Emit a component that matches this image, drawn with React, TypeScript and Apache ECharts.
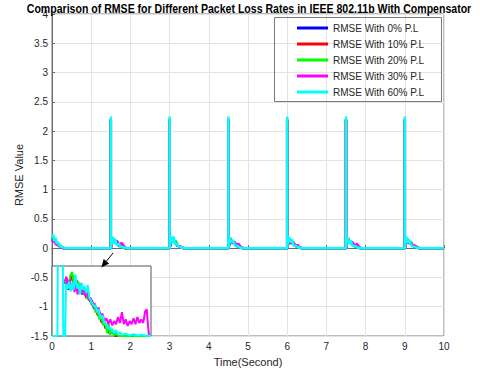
import React, { useEffect, useRef } from "react";
import * as echarts from "echarts";

// ---- Data ----
const seriesNames = [
  "RMSE With 0% P.L",
  "RMSE With 10% P.L",
  "RMSE With 20% P.L",
  "RMSE With 30% P.L",
  "RMSE With 60% P.L",
];
const seriesColors = ["#0000ff", "#ff0000", "#00ff00", "#ff00ff", "#00ffff"];

const xTicks = [0, 1, 2, 3, 4, 5, 6, 7, 8, 9, 10];
const yTicks = [-1.5, -1, -0.5, 0, 0.5, 1, 1.5, 2, 2.5, 3, 3.5, 4];

// main plot, [time, rmse]
const rmse0 = [
  [0, 0.18], [0.04, 0.12], [0.08, 0.15], [0.12, 0.06], [0.18, 0.05], [0.25, 0.01], [0.3, 0],
  [1.5, 0], [1.5, 2.2], [1.5, 0], [1.55, 0.16], [1.6, 0.09], [1.65, 0.11], [1.7, 0.04], [1.78, 0.03], [1.86, 0],
  [3.0, 0], [3.0, 2.2], [3.0, 0], [3.05, 0.17], [3.1, 0.1], [3.15, 0.12], [3.2, 0.04], [3.28, 0.02], [3.36, 0],
  [4.5, 0], [4.5, 2.2], [4.5, 0], [4.55, 0.16], [4.6, 0.09], [4.65, 0.1], [4.7, 0.04], [4.78, 0.02], [4.86, 0],
  [6.0, 0], [6.0, 2.2], [6.0, 0], [6.05, 0.16], [6.1, 0.09], [6.15, 0.1], [6.2, 0.04], [6.28, 0.02], [6.36, 0],
  [7.5, 0], [7.5, 2.2], [7.5, 0], [7.55, 0.16], [7.6, 0.09], [7.65, 0.1], [7.7, 0.04], [7.78, 0.02], [7.86, 0],
  [9.0, 0], [9.0, 2.2], [9.0, 0], [9.05, 0.16], [9.1, 0.09], [9.15, 0.1], [9.2, 0.04], [9.28, 0.02], [9.36, 0],
  [10, 0],
];
const rmse10 = [
  [0, 0.17], [0.04, 0.13], [0.08, 0.14], [0.12, 0.07], [0.18, 0.04], [0.25, 0.02], [0.3, 0],
  [1.5, 0], [1.5, 2.2], [1.5, 0], [1.55, 0.17], [1.6, 0.08], [1.65, 0.12], [1.7, 0.05], [1.78, 0.02], [1.86, 0],
  [3.0, 0], [3.0, 2.2], [3.0, 0], [3.05, 0.16], [3.1, 0.11], [3.15, 0.11], [3.2, 0.05], [3.28, 0.02], [3.36, 0],
  [4.5, 0], [4.5, 2.2], [4.5, 0], [4.55, 0.17], [4.6, 0.08], [4.65, 0.11], [4.7, 0.05], [4.78, 0.02], [4.86, 0],
  [6.0, 0], [6.0, 2.2], [6.0, 0], [6.05, 0.17], [6.1, 0.08], [6.15, 0.11], [6.2, 0.05], [6.28, 0.02], [6.36, 0],
  [7.5, 0], [7.5, 2.2], [7.5, 0], [7.55, 0.17], [7.6, 0.08], [7.65, 0.11], [7.7, 0.05], [7.78, 0.02], [7.86, 0],
  [9.0, 0], [9.0, 2.2], [9.0, 0], [9.05, 0.17], [9.1, 0.08], [9.15, 0.11], [9.2, 0.05], [9.28, 0.02], [9.36, 0],
  [10, 0],
];
const rmse20 = [
  [0, 0.19], [0.04, 0.11], [0.08, 0.16], [0.12, 0.06], [0.18, 0.06], [0.25, 0.01], [0.3, 0],
  [1.5, 0], [1.5, 2.2], [1.5, 0], [1.55, 0.18], [1.6, 0.1], [1.65, 0.12], [1.7, 0.05], [1.78, 0.03], [1.86, 0],
  [3.0, 0], [3.0, 2.2], [3.0, 0], [3.05, 0.18], [3.1, 0.1], [3.15, 0.13], [3.2, 0.05], [3.28, 0.02], [3.36, 0],
  [4.5, 0], [4.5, 2.2], [4.5, 0], [4.55, 0.17], [4.6, 0.1], [4.65, 0.11], [4.7, 0.05], [4.78, 0.02], [4.86, 0],
  [6.0, 0], [6.0, 2.2], [6.0, 0], [6.05, 0.17], [6.1, 0.1], [6.15, 0.11], [6.2, 0.05], [6.28, 0.02], [6.36, 0],
  [7.5, 0], [7.5, 2.2], [7.5, 0], [7.55, 0.17], [7.6, 0.1], [7.65, 0.11], [7.7, 0.05], [7.78, 0.02], [7.86, 0],
  [9.0, 0], [9.0, 2.2], [9.0, 0], [9.05, 0.17], [9.1, 0.1], [9.15, 0.11], [9.2, 0.05], [9.28, 0.02], [9.36, 0],
  [10, 0],
];
const rmse30 = [
  [0, 0.15], [0.04, 0.1], [0.07, 0.14], [0.1, 0.06], [0.14, 0.09], [0.2, 0.02], [0.3, 0],
  [1.5, 0], [1.5, 2.2], [1.5, 0], [1.55, 0.15], [1.6, 0.1], [1.66, 0.12], [1.72, 0.05], [1.78, 0.09], [1.84, 0.03], [1.9, 0],
  [3.0, 0], [3.0, 2.2], [3.0, 0], [3.05, 0.16], [3.1, 0.12], [3.15, 0.08], [3.2, 0.05], [3.28, 0.02], [3.35, 0],
  [4.5, 0], [4.5, 2.2], [4.5, 0], [4.55, 0.15], [4.6, 0.1], [4.65, 0.1], [4.7, 0.06], [4.76, 0.07], [4.82, 0.02], [4.9, 0],
  [6.0, 0], [6.0, 2.2], [6.0, 0], [6.05, 0.15], [6.1, 0.1], [6.15, 0.09], [6.2, 0.05], [6.27, 0.05], [6.33, 0.01], [6.4, 0],
  [7.5, 0], [7.5, 2.2], [7.5, 0], [7.55, 0.14], [7.6, 0.1], [7.66, 0.1], [7.72, 0.05], [7.78, 0.07], [7.84, 0.02], [7.9, 0],
  [9.0, 0], [9.0, 2.2], [9.0, 0], [9.05, 0.15], [9.1, 0.1], [9.15, 0.09], [9.2, 0.05], [9.27, 0.04], [9.33, 0.01], [9.4, 0],
  [10, 0],
];
const rmse60 = [
  [0, 0.2], [0.03, 0.23], [0.06, 0.12], [0.09, 0.18], [0.12, 0.08], [0.16, 0.1], [0.2, 0.03], [0.26, 0.02], [0.32, 0],
  [1.5, 0], [1.5, 2.25], [1.5, 0], [1.53, 0.2], [1.57, 0.08], [1.61, 0.16], [1.65, 0.05], [1.7, 0.07], [1.76, 0.02], [1.85, 0.01], [1.92, 0],
  [3.0, 0], [3.0, 2.25], [3.0, 0], [3.03, 0.2], [3.07, 0.1], [3.1, 0.2], [3.14, 0.06], [3.18, 0.08], [3.24, 0.02], [3.32, 0.01], [3.4, 0],
  [4.5, 0], [4.5, 2.25], [4.5, 0], [4.53, 0.19], [4.58, 0.09], [4.62, 0.14], [4.66, 0.05], [4.72, 0.04], [4.8, 0.01], [4.9, 0],
  [6.0, 0], [6.0, 2.25], [6.0, 0], [6.03, 0.2], [6.08, 0.1], [6.12, 0.15], [6.16, 0.05], [6.22, 0.04], [6.3, 0.01], [6.4, 0],
  [7.5, 0], [7.5, 2.25], [7.5, 0], [7.53, 0.19], [7.58, 0.08], [7.62, 0.13], [7.66, 0.04], [7.72, 0.04], [7.8, 0.01], [7.9, 0],
  [9.0, 0], [9.0, 2.25], [9.0, 0], [9.03, 0.2], [9.08, 0.09], [9.12, 0.14], [9.16, 0.05], [9.22, 0.03], [9.3, 0.01], [9.4, 0],
  [10, 0],
];

// zoomed inset (drawn in the lower-left box)
const inset0 = [
  [0.33, -0.62], [0.38, -0.55], [0.43, -0.72], [0.48, -0.52], [0.53, -0.5], [0.58, -0.66], [0.63, -0.56], [0.68, -0.74],
  [0.73, -0.62], [0.78, -0.8], [0.83, -0.7], [0.88, -0.84], [0.93, -0.76], [0.98, -0.92], [1.03, -0.9], [1.08, -1.02],
  [1.13, -1.0], [1.18, -1.14], [1.23, -1.12], [1.28, -1.26], [1.33, -1.24], [1.38, -1.36], [1.43, -1.34], [1.48, -1.45],
  [1.55, -1.42], [1.62, -1.5], [2.55, -1.5],
];
const inset10 = [
  [0.33, -0.6], [0.38, -0.58], [0.43, -0.68], [0.48, -0.55], [0.53, -0.48], [0.58, -0.64], [0.63, -0.58], [0.68, -0.72],
  [0.73, -0.64], [0.78, -0.78], [0.83, -0.72], [0.88, -0.86], [0.93, -0.8], [0.98, -0.9], [1.03, -0.92], [1.08, -1.04],
  [1.13, -1.02], [1.18, -1.16], [1.23, -1.1], [1.28, -1.28], [1.33, -1.22], [1.38, -1.38], [1.43, -1.32], [1.48, -1.46],
  [1.56, -1.44], [1.64, -1.5], [2.55, -1.5],
];
const inset20 = [
  [0.33, -0.6], [0.38, -0.52], [0.42, -0.7], [0.47, -0.48], [0.52, -0.42], [0.56, -0.6], [0.6, -0.5], [0.64, -0.7],
  [0.68, -0.58], [0.72, -0.78], [0.77, -0.65], [0.82, -0.8], [0.87, -0.72], [0.92, -0.88], [0.97, -0.85], [1.02, -0.98],
  [1.07, -0.95], [1.12, -1.1], [1.17, -1.08], [1.22, -1.22], [1.27, -1.18], [1.32, -1.32], [1.37, -1.28], [1.42, -1.45],
  [1.46, -1.3], [1.5, -1.48], [1.55, -1.38], [1.6, -1.5], [1.65, -1.42], [1.7, -1.5], [2.55, -1.5],
];
const inset30 = [
  [0.33, -0.58], [0.37, -0.5], [0.41, -0.68], [0.45, -0.55], [0.5, -0.72], [0.54, -0.6], [0.58, -0.76], [0.62, -0.62],
  [0.66, -0.8], [0.7, -0.66], [0.75, -0.78], [0.8, -0.7], [0.85, -0.82], [0.9, -0.75], [0.95, -0.9], [1.0, -0.86],
  [1.05, -0.98], [1.1, -0.95], [1.15, -1.08], [1.2, -1.02], [1.25, -1.18], [1.3, -1.12], [1.35, -1.25], [1.4, -1.2],
  [1.45, -1.3], [1.5, -1.22], [1.55, -1.32], [1.6, -1.25], [1.65, -1.3], [1.7, -1.18], [1.75, -1.28], [1.8, -1.1],
  [1.85, -1.3], [1.9, -1.22], [1.95, -1.33], [2.0, -1.25], [2.05, -1.3], [2.1, -1.2], [2.15, -1.3], [2.2, -1.18],
  [2.25, -1.28], [2.3, -1.22], [2.35, -1.28], [2.4, -1.08], [2.44, -1.05], [2.47, -1.3], [2.5, -1.5], [2.55, -1.5],
];
const inset60 = [
  [0, -1.5], [0.14, -1.5], [0.15, -0.1], [0.28, -0.1], [0.29, -1.5], [0.34, -1.5], [0.36, -0.62], [0.4, -0.7],
  [0.44, -0.58], [0.48, -0.75], [0.52, -0.6], [0.56, -0.72], [0.6, -0.46], [0.64, -0.7], [0.68, -0.62], [0.72, -0.8],
  [0.76, -0.6], [0.8, -0.72], [0.84, -0.66], [0.88, -0.78], [0.92, -0.64], [0.96, -0.85], [1.0, -0.9], [1.04, -0.95],
  [1.08, -1.0], [1.12, -0.98], [1.16, -1.1], [1.2, -1.05], [1.25, -1.2], [1.3, -1.15], [1.35, -1.28], [1.4, -1.3],
  [1.45, -1.38], [1.5, -1.35], [1.55, -1.42], [1.6, -1.45], [1.65, -1.4], [1.7, -1.47], [1.75, -1.44], [1.8, -1.48],
  [1.9, -1.46], [2.0, -1.49], [2.1, -1.47], [2.2, -1.49], [2.3, -1.48], [2.4, -1.49], [2.5, -1.5], [2.55, -1.5],
];

const mainData = [rmse0, rmse10, rmse20, rmse30, rmse60];
const insetData = [inset0, inset10, inset20, inset30, inset60];

const FONT = "'Liberation Sans', Arial, sans-serif";

export default function App() {
  const ref = useRef<HTMLDivElement>(null);

  useEffect(() => {
    if (!ref.current) return;
    const chart = echarts.init(ref.current, null, { renderer: "svg" });

    const series: any[] = [];
    mainData.forEach((d, i) => {
      series.push({
        name: seriesNames[i],
        type: "line",
        xAxisIndex: 0,
        yAxisIndex: 0,
        data: d,
        showSymbol: false,
        symbol: "none",
        lineStyle: { color: seriesColors[i], width: 2.5 },
        itemStyle: { color: seriesColors[i] },
        z: 2,
      });
    });
    insetData.forEach((d, i) => {
      series.push({
        name: seriesNames[i],
        type: "line",
        xAxisIndex: 1,
        yAxisIndex: 1,
        data: d,
        showSymbol: false,
        symbol: "none",
        clip: true,
        lineStyle: { color: seriesColors[i], width: 2 },
        itemStyle: { color: seriesColors[i] },
        z: 6,
      });
    });

    const axisLabelStyle = { color: "#262626", fontSize: 10, fontFamily: FONT };

    chart.setOption({
      animation: false,
      backgroundColor: "#ffffff",
      grid: [
        { left: 52, right: 36, top: 14, bottom: 40, show: true, borderColor: "#7a7a7a", borderWidth: 1, backgroundColor: "#ffffff" },
        { left: 52, top: 266, width: 99, height: 70, show: true, borderColor: "#555555", borderWidth: 1, backgroundColor: "#ffffff", z: 5 },
      ],
      xAxis: [
        {
          type: "value",
          gridIndex: 0,
          min: xTicks[0],
          max: xTicks[xTicks.length - 1],
          interval: 1,
          name: "Time(Second)",
          nameLocation: "middle",
          nameGap: 20,
          nameMoveOverlap: false,
          nameTextStyle: { color: "#262626", fontSize: 11, fontFamily: FONT },
          axisLine: { show: true, lineStyle: { color: "#6a6a6a" } },
          axisTick: { show: true, inside: true, length: 3, lineStyle: { color: "#6a6a6a" } },
          axisLabel: { ...axisLabelStyle, margin: 5 },
          splitLine: { show: true, lineStyle: { color: "#e3e3e3", width: 1 } },
        },
        {
          type: "value",
          gridIndex: 1,
          min: 0,
          max: 2.55,
          show: false,
          splitLine: { show: false },
        },
      ],
      yAxis: [
        {
          type: "value",
          gridIndex: 0,
          min: yTicks[0],
          max: yTicks[yTicks.length - 1],
          interval: 0.5,
          name: "RMSE Value",
          nameLocation: "middle",
          nameGap: 28,
          nameMoveOverlap: false,
          nameTextStyle: { color: "#262626", fontSize: 11, fontFamily: FONT },
          axisLine: { show: true, lineStyle: { color: "#6a6a6a" } },
          axisTick: { show: true, inside: true, length: 3, lineStyle: { color: "#6a6a6a" } },
          axisLabel: { ...axisLabelStyle, margin: 4 },
          splitLine: { show: true, lineStyle: { color: "#e3e3e3", width: 1 } },
        },
        {
          type: "value",
          gridIndex: 1,
          min: -1.5,
          max: -0.32,
          show: false,
          splitLine: { show: false },
        },
      ],
      legend: {
        data: seriesNames,
        orient: "vertical",
        left: 297,
        top: 22,
        itemWidth: 31,
        itemHeight: 3,
        itemGap: 4,
        icon: "rect",
        padding: 0,
        textStyle: { color: "#262626", fontSize: 10, fontFamily: FONT, lineHeight: 12 },
        selectedMode: false,
      },
      series,
    });

    // annotations: title, legend box, arrow
    const tail = chart.convertToPixel({ gridIndex: 0 }, [1.56, -0.08]) as number[];
    const tip = chart.convertToPixel({ gridIndex: 0 }, [1.26, -0.33]) as number[];
    const dx = tip[0] - tail[0];
    const dy = tip[1] - tail[1];
    const len = Math.sqrt(dx * dx + dy * dy);
    const ux = dx / len;
    const uy = dy / len;
    const headLen = 8;
    const headW = 3.5;
    const bx = tip[0] - ux * headLen;
    const by = tip[1] - uy * headLen;

    chart.setOption({
      graphic: [
        {
          type: "text",
          x: 249,
          y: 9,
          scaleX: 0.88,
          style: {
            text: "Comparison of RMSE for Different Packet Loss Rates in IEEE 802.11b With Compensator",
            font: `bold 12px ${FONT}`,
            fill: "#000000",
            textAlign: "center",
            textVerticalAlign: "middle",
          },
          z: 20,
        },
        {
          type: "rect",
          shape: { x: 274.5, y: 17.5, width: 167, height: 84 },
          style: { fill: "rgba(255,255,255,0)", stroke: "#7a7a7a", lineWidth: 1 },
          z: 1,
        },
        {
          type: "line",
          shape: { x1: tail[0], y1: tail[1], x2: bx, y2: by },
          style: { stroke: "#000000", lineWidth: 1 },
          z: 20,
        },
        {
          type: "polygon",
          shape: {
            points: [
              [tip[0], tip[1]],
              [bx - uy * headW, by + ux * headW],
              [bx + uy * headW, by - ux * headW],
            ],
          },
          style: { fill: "#000000" },
          z: 20,
        },
      ],
    });

    return () => chart.dispose();
  }, []);

  return (
    <div
      ref={ref}
      style={{ position: "fixed", left: 0, top: 0, width: 480, height: 376 }}
    />
  );
}
